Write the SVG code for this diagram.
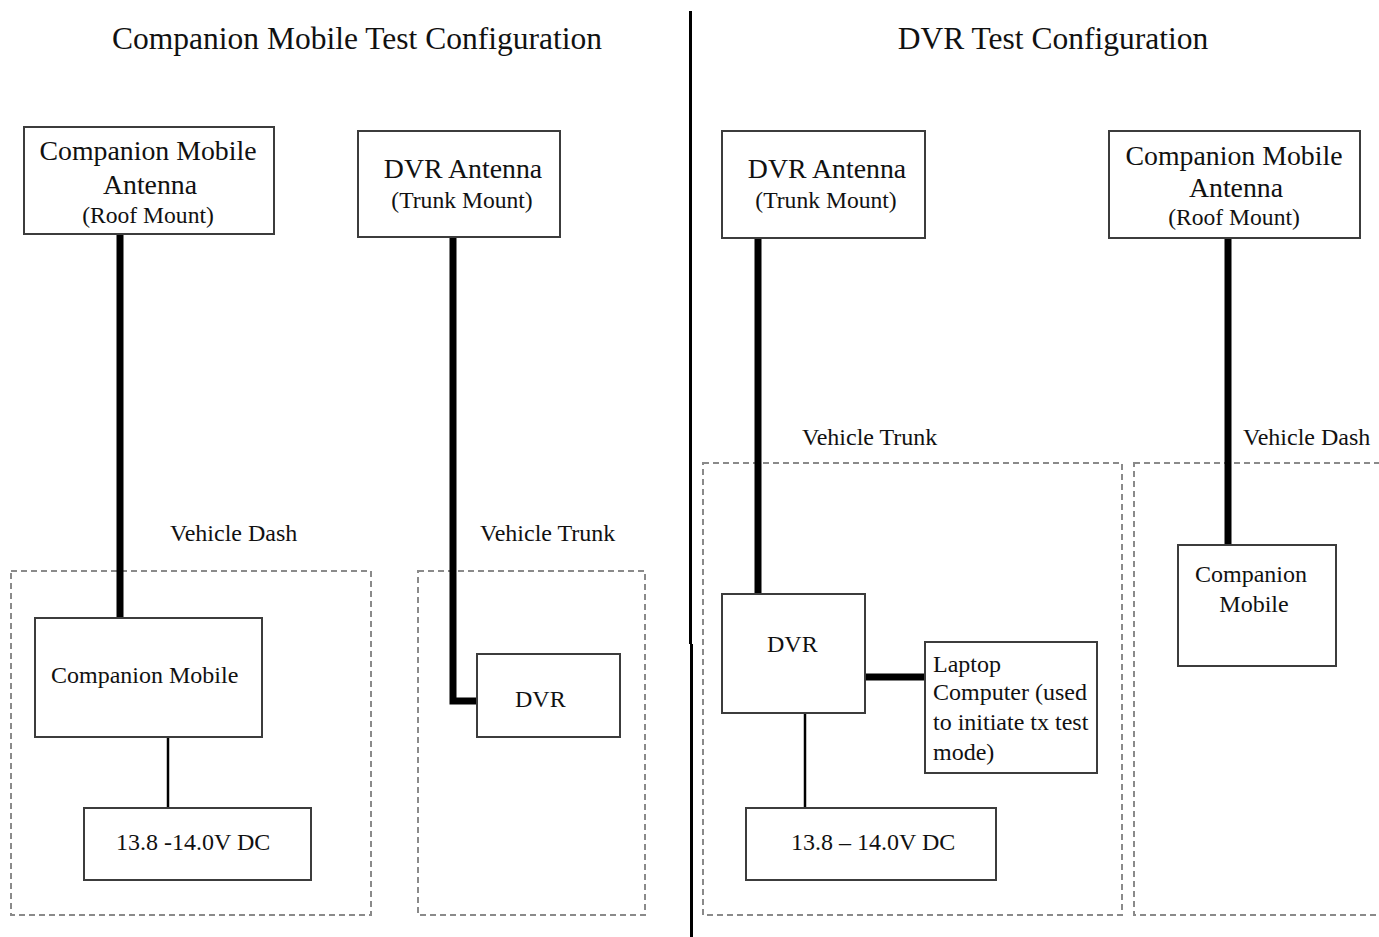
<svg xmlns="http://www.w3.org/2000/svg" width="1379" height="937" viewBox="0 0 1379 937">
<style>
text{font-family:"Liberation Serif","Times New Roman",serif;fill:#111}
.title{font-size:31.5px;text-anchor:middle}
.t24{font-size:24px}
.t28{font-size:27.8px}
.t23{font-size:23.6px}
.mid{text-anchor:middle}
.box{fill:#fff;stroke:#3c3c3c;stroke-width:2}
.zone{fill:none;stroke:#8a8a8a;stroke-width:2;stroke-dasharray:6 4}
.thick{fill:none;stroke:#000;stroke-width:7}
.thin{fill:none;stroke:#000;stroke-width:2.5}
.div{stroke:#000;stroke-width:3}
</style>
<rect width="1379" height="937" fill="#fff"/>
<g id="divider">
<line class="div" x1="690.5" y1="11" x2="690.5" y2="644"/>
<line class="div" x1="691.5" y1="644" x2="691.5" y2="937"/>
</g>
<g id="titles">
<text class="title" x="357" y="49">Companion Mobile Test Configuration</text>
<text class="title" x="1053" y="49">DVR Test Configuration</text>
</g>
<g id="zones">
<rect class="zone" x="11" y="571" width="360" height="344"/>
<rect class="zone" x="418" y="571" width="227" height="344"/>
<rect class="zone" x="703" y="463" width="419" height="452"/>
<rect class="zone" x="1134" y="463" width="260" height="452"/>
<text class="t24" x="170" y="541">Vehicle Dash</text>
<text class="t24" x="480" y="541">Vehicle Trunk</text>
<text class="t24" x="802" y="445">Vehicle Trunk</text>
<text class="t24" x="1243" y="445">Vehicle Dash</text>
</g>
<g id="connectors">
<line class="thick" x1="120" y1="234" x2="120" y2="619"/>
<polyline class="thick" points="453,237 453,701 478,701"/>
<line class="thin" x1="168" y1="737" x2="168" y2="808"/>
<line class="thick" x1="758" y1="238" x2="758" y2="595"/>
<line class="thick" x1="866" y1="677" x2="925" y2="677"/>
<line class="thin" x1="805" y1="713" x2="805" y2="808"/>
<line class="thick" x1="1228" y1="238" x2="1228" y2="546"/>
</g>
<g id="cm-antenna-left">
<rect class="box" x="24" y="127" width="250" height="107"/>
<text class="t28 mid" x="148" y="160">Companion Mobile</text>
<text class="t28 mid" x="150" y="194">Antenna</text>
<text class="t23 mid" x="148" y="223">(Roof Mount)</text>
</g>
<g id="dvr-antenna-left">
<rect class="box" x="358" y="131" width="202" height="106"/>
<text class="t28 mid" x="463" y="178">DVR Antenna</text>
<text class="t23 mid" x="462" y="208">(Trunk Mount)</text>
</g>
<g id="cm-left">
<rect class="box" x="35" y="618" width="227" height="119"/>
<text class="t24" x="51" y="683">Companion Mobile</text>
</g>
<g id="dc-left">
<rect class="box" x="84" y="808" width="227" height="72"/>
<text class="t24" x="116" y="850">13.8 -14.0V DC</text>
</g>
<g id="dvr-left">
<rect class="box" x="477" y="654" width="143" height="83"/>
<text class="t24" x="515" y="707">DVR</text>
</g>
<g id="dvr-antenna-right">
<rect class="box" x="722" y="131" width="203" height="107"/>
<text class="t28 mid" x="827" y="178">DVR Antenna</text>
<text class="t23 mid" x="826" y="208">(Trunk Mount)</text>
</g>
<g id="cm-antenna-right">
<rect class="box" x="1109" y="131" width="251" height="107"/>
<text class="t28 mid" x="1234" y="165">Companion Mobile</text>
<text class="t28 mid" x="1236" y="197">Antenna</text>
<text class="t23 mid" x="1234" y="225">(Roof Mount)</text>
</g>
<g id="dvr-right">
<rect class="box" x="722" y="594" width="143" height="119"/>
<text class="t24" x="767" y="652">DVR</text>
</g>
<g id="laptop">
<rect class="box" x="925" y="642" width="172" height="131"/>
<text class="t24" x="933" y="672">Laptop</text>
<text class="t24" x="933" y="700">Computer (used</text>
<text class="t24" x="933" y="730">to initiate tx test</text>
<text class="t24" x="933" y="760">mode)</text>
</g>
<g id="dc-right">
<rect class="box" x="746" y="808" width="250" height="72"/>
<text class="t24" x="791" y="850">13.8 – 14.0V DC</text>
</g>
<g id="cm-right">
<rect class="box" x="1178" y="545" width="158" height="121"/>
<text class="t24 mid" x="1251" y="582">Companion</text>
<text class="t24 mid" x="1254" y="612">Mobile</text>
</g>
</svg>
